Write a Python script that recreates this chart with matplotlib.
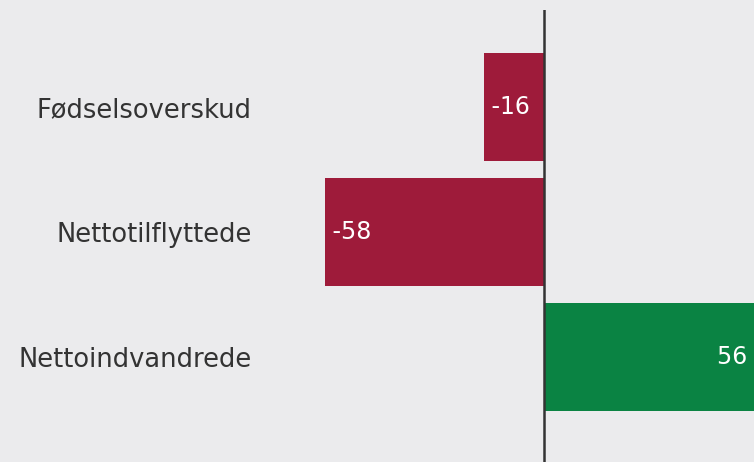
import matplotlib.pyplot as plt

kategorier = ["Fødselsoverskud", "Nettotilflyttede", "Nettoindvandrede"]
verdier = [-16, -58, 56]
farver = ["#9e1b3a", "#9e1b3a", "#0a8343"]

bg = "#ebebed"

fig = plt.figure(figsize=(7.54, 4.62), dpi=100, facecolor=bg)
ax = fig.add_axes([270 / 754, 0, 484 / 754, 452 / 462])
ax.set_facecolor(bg)

y = range(len(kategorier))
ax.barh(y, verdier, height=0.864, color=farver)

ax.set_xlim(-72.7, 55.8)
ax.set_ylim(2.84, -0.776)

for s in ["top", "bottom", "right", "left"]:
    ax.spines[s].set_visible(False)
ax.axvline(0, color="#333333", linewidth=1.8)

ax.set_xticks([])
ax.set_yticks(list(y))
ax.set_yticklabels(kategorier, fontsize=18.5, color="#333333")
ax.tick_params(axis="y", length=0, pad=13)

for i, v in enumerate(verdier):
    if v < 0:
        ax.text(v, i, f" {v}", ha="left", va="center", color="white", fontsize=17)
    else:
        ax.text(v, i, f"{v} ", ha="right", va="center", color="white", fontsize=17)

fig.savefig("out.png", dpi=100, facecolor=bg)
